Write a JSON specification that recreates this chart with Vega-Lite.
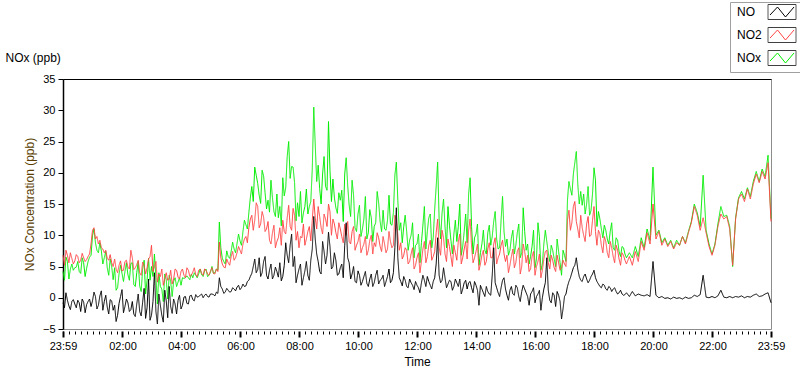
{
  "$schema": "https://vega.github.io/schema/vega-lite/v6.json",
  "autosize": "none",
  "width": 708,
  "height": 250,
  "padding": {"left": 63, "top": 79, "right": 29, "bottom": 40},
  "background": "white",
  "config": {
    "view": {"stroke": "#8c8c8c", "strokeWidth": 1, "fill": "white"},
    "axis": {"grid": false, "labelFont": "Liberation Sans", "titleFont": "Liberation Sans", "labelColor": "#000000", "tickColor": "#000000", "domainColor": "#000000", "labelFontSize": 11, "titleFontSize": 12, "titleFontWeight": "normal", "labelFlush": false},
    "legend": {"labelFont": "Liberation Sans"}
  },
  "data": {"values": [
    {"t":-1,"NO":-0.8,"NO2":6.8,"NOx":4.2},{"t":5,"NO":0.8,"NO2":7.6,"NOx":6.5},{"t":11,"NO":-1.3,"NO2":5.6,"NOx":3.0},{"t":17,"NO":-0.6,"NO2":6.3,"NOx":5.4},
    {"t":23,"NO":-1.0,"NO2":5.9,"NOx":4.8},{"t":29,"NO":-0.4,"NO2":6.6,"NOx":5.8},{"t":35,"NO":-2.2,"NO2":6.0,"NOx":3.9},{"t":41,"NO":-0.7,"NO2":6.4,"NOx":5.6},
    {"t":47,"NO":-1.1,"NO2":6.1,"NOx":4.7},{"t":53,"NO":-0.2,"NO2":7.0,"NOx":6.5},{"t":59,"NO":-0.5,"NO2":10.8,"NOx":9.9},{"t":65,"NO":0.2,"NO2":9.4,"NOx":8.8},
    {"t":71,"NO":-1.2,"NO2":8.6,"NOx":7.2},{"t":77,"NO":1.1,"NO2":8.0,"NOx":7.5},{"t":83,"NO":-0.6,"NO2":7.2,"NOx":6.4},{"t":89,"NO":-1.5,"NO2":6.3,"NOx":4.8},
    {"t":95,"NO":-0.3,"NO2":6.9,"NOx":6.2},{"t":101,"NO":-2.0,"NO2":5.0,"NOx":2.9},{"t":107,"NO":-3.8,"NO2":4.6,"NOx":1.2},{"t":113,"NO":-0.9,"NO2":5.2,"NOx":3.8},
    {"t":119,"NO":1.3,"NO2":4.3,"NOx":3.9},{"t":125,"NO":-1.4,"NO2":5.8,"NOx":4.2},{"t":131,"NO":-0.8,"NO2":4.9,"NOx":3.7},{"t":137,"NO":-1.9,"NO2":7.6,"NOx":5.5},
    {"t":143,"NO":-2.6,"NO2":4.5,"NOx":2.1},{"t":149,"NO":-1.0,"NO2":5.3,"NOx":4.0},{"t":155,"NO":-2.2,"NO2":4.0,"NOx":1.9},{"t":161,"NO":-0.7,"NO2":5.7,"NOx":4.6},
    {"t":167,"NO":-3.3,"NO2":3.8,"NOx":0.6},{"t":173,"NO":3.0,"NO2":6.2,"NOx":6.3},{"t":179,"NO":-2.8,"NO2":8.4,"NOx":5.0},{"t":185,"NO":4.0,"NO2":5.0,"NOx":7.0},
    {"t":191,"NO":-4.2,"NO2":2.5,"NOx":-1.0},{"t":197,"NO":-1.2,"NO2":3.4,"NOx":1.8},{"t":203,"NO":-3.9,"NO2":2.0,"NOx":-0.6},{"t":209,"NO":-0.5,"NO2":4.0,"NOx":2.9},
    {"t":215,"NO":1.8,"NO2":3.0,"NOx":3.6},{"t":221,"NO":-2.5,"NO2":2.2,"NOx":0.2},{"t":227,"NO":-1.0,"NO2":4.6,"NOx":3.2},{"t":233,"NO":-0.4,"NO2":3.3,"NOx":2.5},
    {"t":239,"NO":-1.8,"NO2":4.2,"NOx":2.0},{"t":245,"NO":0.1,"NO2":3.6,"NOx":3.1},{"t":251,"NO":-0.9,"NO2":4.8,"NOx":3.5},{"t":257,"NO":0.3,"NO2":3.4,"NOx":2.9},
    {"t":263,"NO":-0.3,"NO2":4.1,"NOx":3.2},{"t":269,"NO":0.5,"NO2":3.7,"NOx":3.6},{"t":275,"NO":0.2,"NO2":4.4,"NOx":3.8},{"t":281,"NO":0.6,"NO2":3.9,"NOx":3.7},
    {"t":287,"NO":0.4,"NO2":4.6,"NOx":4.3},{"t":293,"NO":0.2,"NO2":3.8,"NOx":3.4},{"t":299,"NO":0.6,"NO2":4.3,"NOx":4.1},{"t":305,"NO":0.5,"NO2":3.9,"NOx":3.9},
    {"t":311,"NO":0.9,"NO2":4.6,"NOx":4.6},{"t":317,"NO":3.2,"NO2":8.9,"NOx":12.1},{"t":323,"NO":1.4,"NO2":5.4,"NOx":6.3},{"t":329,"NO":0.9,"NO2":4.8,"NOx":5.4},
    {"t":335,"NO":1.2,"NO2":5.6,"NOx":6.6},{"t":341,"NO":1.0,"NO2":6.6,"NOx":7.4},{"t":347,"NO":1.4,"NO2":6.0,"NOx":7.8},{"t":353,"NO":1.7,"NO2":7.2,"NOx":8.7},
    {"t":359,"NO":1.3,"NO2":7.6,"NOx":9.1},{"t":365,"NO":2.2,"NO2":8.6,"NOx":10.6},{"t":371,"NO":1.9,"NO2":9.8,"NOx":11.7},{"t":377,"NO":2.8,"NO2":11.2,"NOx":13.6},
    {"t":383,"NO":3.9,"NO2":13.2,"NOx":17.8},{"t":389,"NO":6.2,"NO2":12.4,"NOx":20.9},{"t":395,"NO":4.5,"NO2":14.6,"NOx":18.3},{"t":401,"NO":3.4,"NO2":11.8,"NOx":15.1},
    {"t":407,"NO":5.8,"NO2":12.9,"NOx":19.5},{"t":413,"NO":3.6,"NO2":11.0,"NOx":14.2},{"t":419,"NO":4.4,"NO2":9.2,"NOx":13.7},{"t":425,"NO":3.0,"NO2":10.4,"NOx":16.0},
    {"t":431,"NO":4.9,"NO2":8.0,"NOx":13.0},{"t":437,"NO":3.3,"NO2":9.6,"NOx":12.8},{"t":443,"NO":2.7,"NO2":8.4,"NOx":11.5},{"t":449,"NO":5.2,"NO2":10.6,"NOx":16.3},
    {"t":455,"NO":6.8,"NO2":12.8,"NOx":22.6},{"t":461,"NO":8.4,"NO2":11.4,"NOx":19.1},{"t":467,"NO":5.0,"NO2":14.3,"NOx":20.9},{"t":473,"NO":2.4,"NO2":9.2,"NOx":12.3},
    {"t":479,"NO":4.6,"NO2":8.0,"NOx":13.0},{"t":485,"NO":2.0,"NO2":9.6,"NOx":12.0},{"t":491,"NO":4.3,"NO2":8.4,"NOx":14.6},{"t":497,"NO":3.6,"NO2":10.6,"NOx":13.4},
    {"t":503,"NO":6.0,"NO2":9.1,"NOx":15.4},{"t":509,"NO":13.0,"NO2":15.8,"NOx":30.5},{"t":515,"NO":7.0,"NO2":11.0,"NOx":18.6},{"t":521,"NO":4.2,"NO2":13.0,"NOx":17.5},
    {"t":527,"NO":9.0,"NO2":10.2,"NOx":19.8},{"t":533,"NO":5.4,"NO2":12.6,"NOx":17.8},{"t":539,"NO":10.5,"NO2":15.0,"NOx":28.2},{"t":545,"NO":4.6,"NO2":10.0,"NOx":15.4},
    {"t":551,"NO":7.2,"NO2":11.8,"NOx":16.0},{"t":557,"NO":3.6,"NO2":9.4,"NOx":13.5},{"t":563,"NO":4.8,"NO2":11.0,"NOx":15.6},{"t":569,"NO":3.2,"NO2":8.8,"NOx":12.2},
    {"t":575,"NO":12.0,"NO2":10.0,"NOx":22.4},{"t":581,"NO":5.6,"NO2":9.0,"NOx":14.8},{"t":587,"NO":3.8,"NO2":10.6,"NOx":18.8},{"t":593,"NO":2.6,"NO2":7.6,"NOx":11.2},
    {"t":599,"NO":4.3,"NO2":9.0,"NOx":13.4},{"t":605,"NO":2.0,"NO2":7.2,"NOx":9.8},{"t":611,"NO":3.4,"NO2":8.6,"NOx":12.6},{"t":617,"NO":2.3,"NO2":6.8,"NOx":9.4},
    {"t":623,"NO":3.0,"NO2":9.2,"NOx":14.1},{"t":629,"NO":1.8,"NO2":7.0,"NOx":9.0},{"t":635,"NO":3.6,"NO2":8.2,"NOx":12.0},{"t":641,"NO":2.2,"NO2":9.6,"NOx":15.2},
    {"t":647,"NO":3.0,"NO2":7.4,"NOx":10.6},{"t":653,"NO":1.8,"NO2":8.6,"NOx":11.0},{"t":659,"NO":3.4,"NO2":7.8,"NOx":12.4},{"t":665,"NO":2.4,"NO2":9.0,"NOx":11.8},
    {"t":671,"NO":4.0,"NO2":8.4,"NOx":13.6},{"t":677,"NO":14.4,"NO2":12.4,"NOx":21.7},{"t":683,"NO":3.2,"NO2":7.6,"NOx":10.8},{"t":689,"NO":1.9,"NO2":6.2,"NOx":8.8},
    {"t":695,"NO":2.8,"NO2":8.0,"NOx":13.2},{"t":701,"NO":1.6,"NO2":5.4,"NOx":7.6},{"t":707,"NO":2.4,"NO2":7.0,"NOx":10.0},{"t":713,"NO":1.3,"NO2":4.6,"NOx":6.4},
    {"t":719,"NO":2.0,"NO2":6.4,"NOx":8.6},{"t":725,"NO":0.8,"NO2":4.0,"NOx":5.6},{"t":731,"NO":3.6,"NO2":7.8,"NOx":11.6},{"t":737,"NO":1.8,"NO2":5.6,"NOx":7.8},
    {"t":743,"NO":2.6,"NO2":8.4,"NOx":12.8},{"t":749,"NO":1.4,"NO2":6.0,"NOx":8.0},{"t":755,"NO":3.2,"NO2":7.4,"NOx":14.2},{"t":761,"NO":9.6,"NO2":12.6,"NOx":21.7},
    {"t":767,"NO":2.4,"NO2":6.8,"NOx":9.4},{"t":773,"NO":4.8,"NO2":9.6,"NOx":15.8},{"t":779,"NO":1.6,"NO2":5.8,"NOx":8.0},{"t":785,"NO":2.8,"NO2":8.2,"NOx":11.6},
    {"t":791,"NO":1.2,"NO2":5.0,"NOx":7.0},{"t":797,"NO":3.0,"NO2":7.2,"NOx":12.4},{"t":803,"NO":1.8,"NO2":9.0,"NOx":11.4},{"t":809,"NO":0.6,"NO2":5.4,"NOx":6.8},
    {"t":815,"NO":2.4,"NO2":7.8,"NOx":10.6},{"t":821,"NO":1.4,"NO2":6.2,"NOx":8.8},{"t":827,"NO":2.6,"NO2":12.6,"NOx":19.2},{"t":833,"NO":0.8,"NO2":5.6,"NOx":7.0},
    {"t":839,"NO":2.0,"NO2":7.4,"NOx":10.2},{"t":845,"NO":-1.2,"NO2":4.4,"NOx":5.2},{"t":851,"NO":1.4,"NO2":6.8,"NOx":8.6},{"t":857,"NO":0.2,"NO2":5.2,"NOx":7.6},
    {"t":863,"NO":1.0,"NO2":7.8,"NOx":10.4},{"t":869,"NO":0.4,"NO2":6.4,"NOx":8.4},{"t":875,"NO":8.0,"NO2":8.6,"NOx":12.2},{"t":881,"NO":1.6,"NO2":5.4,"NOx":9.4},
    {"t":887,"NO":0.2,"NO2":7.0,"NOx":8.0},{"t":893,"NO":2.8,"NO2":9.2,"NOx":16.2},{"t":899,"NO":1.4,"NO2":5.8,"NOx":8.2},{"t":905,"NO":-0.4,"NO2":4.0,"NOx":6.8},
    {"t":911,"NO":1.8,"NO2":6.6,"NOx":9.6},{"t":917,"NO":0.4,"NO2":4.8,"NOx":7.0},{"t":923,"NO":1.6,"NO2":7.4,"NOx":10.4},{"t":929,"NO":-0.6,"NO2":3.8,"NOx":6.4},
    {"t":935,"NO":2.0,"NO2":8.6,"NOx":14.4},{"t":941,"NO":0.8,"NO2":5.6,"NOx":7.6},{"t":947,"NO":-1.2,"NO2":4.2,"NOx":5.4},{"t":953,"NO":1.0,"NO2":6.6,"NOx":8.2},
    {"t":959,"NO":-0.8,"NO2":3.6,"NOx":4.8},{"t":965,"NO":0.6,"NO2":5.8,"NOx":12.0},{"t":971,"NO":-2.0,"NO2":3.2,"NOx":4.4},{"t":977,"NO":1.4,"NO2":6.2,"NOx":8.6},
    {"t":983,"NO":6.4,"NO2":7.6,"NOx":9.0},{"t":989,"NO":-0.4,"NO2":4.6,"NOx":5.8},{"t":995,"NO":0.8,"NO2":6.0,"NOx":7.6},{"t":1001,"NO":-1.4,"NO2":4.2,"NOx":5.0},
    {"t":1007,"NO":0.4,"NO2":5.6,"NOx":7.4},{"t":1013,"NO":-3.4,"NO2":4.8,"NOx":3.6},{"t":1019,"NO":0.2,"NO2":5.4,"NOx":6.8},{"t":1025,"NO":1.8,"NO2":12.4,"NOx":15.6},
    {"t":1031,"NO":3.2,"NO2":10.8,"NOx":17.4},{"t":1037,"NO":4.8,"NO2":14.6,"NOx":19.8},{"t":1043,"NO":6.4,"NO2":12.2,"NOx":23.4},{"t":1049,"NO":3.4,"NO2":9.6,"NOx":15.0},
    {"t":1055,"NO":2.6,"NO2":11.2,"NOx":14.8},{"t":1061,"NO":3.8,"NO2":9.0,"NOx":13.4},{"t":1067,"NO":2.4,"NO2":13.0,"NOx":17.8},{"t":1073,"NO":3.4,"NO2":10.0,"NOx":14.0},
    {"t":1079,"NO":4.4,"NO2":14.6,"NOx":20.8},{"t":1085,"NO":2.6,"NO2":8.4,"NOx":11.4},{"t":1091,"NO":1.8,"NO2":10.2,"NOx":12.6},{"t":1097,"NO":2.2,"NO2":7.2,"NOx":9.6},
    {"t":1103,"NO":1.4,"NO2":9.0,"NOx":10.8},{"t":1109,"NO":1.8,"NO2":6.4,"NOx":8.6},{"t":1115,"NO":1.0,"NO2":8.0,"NOx":12.0},{"t":1121,"NO":1.6,"NO2":5.6,"NOx":7.6},
    {"t":1127,"NO":0.6,"NO2":7.6,"NOx":9.2},{"t":1133,"NO":1.2,"NO2":5.2,"NOx":6.6},{"t":1139,"NO":0.4,"NO2":6.8,"NOx":8.0},{"t":1145,"NO":0.8,"NO2":5.4,"NOx":6.4},
    {"t":1151,"NO":0.2,"NO2":6.6,"NOx":7.2},{"t":1157,"NO":1.0,"NO2":5.2,"NOx":6.4},{"t":1163,"NO":0.3,"NO2":7.4,"NOx":8.2},{"t":1169,"NO":0.6,"NO2":5.8,"NOx":6.6},
    {"t":1175,"NO":0.4,"NO2":9.0,"NOx":9.6},{"t":1181,"NO":0.3,"NO2":7.6,"NOx":8.0},{"t":1187,"NO":0.5,"NO2":10.4,"NOx":11.0},{"t":1193,"NO":0.2,"NO2":8.6,"NOx":9.2},
    {"t":1199,"NO":5.8,"NO2":15.0,"NOx":20.9},{"t":1205,"NO":0.4,"NO2":9.4,"NOx":10.0},{"t":1211,"NO":0.0,"NO2":10.6,"NOx":10.8},{"t":1217,"NO":0.2,"NO2":8.4,"NOx":8.8},
    {"t":1223,"NO":-0.1,"NO2":9.4,"NOx":9.6},{"t":1229,"NO":0.0,"NO2":8.2,"NOx":8.4},{"t":1235,"NO":-0.2,"NO2":9.0,"NOx":9.2},{"t":1241,"NO":0.1,"NO2":7.8,"NOx":8.0},
    {"t":1247,"NO":-0.1,"NO2":8.8,"NOx":9.2},{"t":1253,"NO":0.0,"NO2":8.4,"NOx":8.4},{"t":1259,"NO":-0.2,"NO2":9.8,"NOx":9.8},{"t":1265,"NO":0.1,"NO2":8.6,"NOx":8.8},
    {"t":1271,"NO":-0.1,"NO2":10.4,"NOx":10.6},{"t":1277,"NO":0.0,"NO2":12.0,"NOx":12.2},{"t":1283,"NO":0.4,"NO2":14.6,"NOx":15.0},{"t":1289,"NO":0.2,"NO2":13.2,"NOx":13.6},
    {"t":1295,"NO":0.5,"NO2":10.8,"NOx":11.4},{"t":1301,"NO":3.6,"NO2":12.8,"NOx":19.6},{"t":1307,"NO":0.1,"NO2":10.4,"NOx":10.8},{"t":1313,"NO":0.0,"NO2":8.2,"NOx":8.6},
    {"t":1319,"NO":0.2,"NO2":6.8,"NOx":7.0},{"t":1325,"NO":0.0,"NO2":8.4,"NOx":8.6},{"t":1331,"NO":0.3,"NO2":11.4,"NOx":11.8},{"t":1337,"NO":1.2,"NO2":13.4,"NOx":14.6},
    {"t":1343,"NO":0.1,"NO2":12.6,"NOx":13.0},{"t":1349,"NO":0.0,"NO2":13.0,"NOx":13.2},{"t":1355,"NO":0.2,"NO2":11.0,"NOx":11.4},{"t":1361,"NO":0.0,"NO2":5.2,"NOx":5.0},
    {"t":1367,"NO":0.2,"NO2":12.6,"NOx":12.8},{"t":1373,"NO":0.1,"NO2":15.8,"NOx":16.0},{"t":1379,"NO":0.3,"NO2":16.6,"NOx":17.0},{"t":1385,"NO":0.0,"NO2":15.4,"NOx":15.8},
    {"t":1391,"NO":0.2,"NO2":17.4,"NOx":17.6},{"t":1397,"NO":0.1,"NO2":15.8,"NOx":16.2},{"t":1403,"NO":0.4,"NO2":18.2,"NOx":18.6},{"t":1409,"NO":0.6,"NO2":19.8,"NOx":20.2},
    {"t":1415,"NO":0.2,"NO2":18.4,"NOx":18.6},{"t":1421,"NO":0.3,"NO2":20.2,"NOx":20.6},{"t":1427,"NO":0.6,"NO2":19.0,"NOx":19.4},{"t":1433,"NO":0.8,"NO2":21.6,"NOx":22.8},
    {"t":1439,"NO":-0.8,"NO2":12.2,"NOx":12.6},
    {"t":2,"NO":-1.6,"NO2":5.2,"NOx":2.8},{"t":8,"NO":-0.4,"NO2":6.8,"NOx":5.8},{"t":14,"NO":-1.9,"NO2":7.2,"NOx":4.6},{"t":20,"NO":-0.3,"NO2":5.4,"NOx":4.4},
    {"t":26,"NO":-1.6,"NO2":6.9,"NOx":4.9},{"t":32,"NO":-0.8,"NO2":5.6,"NOx":4.2},{"t":38,"NO":-0.2,"NO2":7.1,"NOx":6.4},{"t":44,"NO":-2.4,"NO2":5.8,"NOx":3.4},
    {"t":50,"NO":-0.6,"NO2":6.6,"NOx":5.8},{"t":56,"NO":-1.4,"NO2":8.6,"NOx":6.8},{"t":62,"NO":0.9,"NO2":11.2,"NOx":11.0},{"t":68,"NO":-1.8,"NO2":9.8,"NOx":7.6},
    {"t":74,"NO":0.3,"NO2":9.2,"NOx":8.8},{"t":80,"NO":-2.0,"NO2":7.8,"NOx":5.4},{"t":86,"NO":0.4,"NO2":7.6,"NOx":7.4},{"t":92,"NO":-2.6,"NO2":6.0,"NOx":3.6},
    {"t":98,"NO":-0.5,"NO2":5.6,"NOx":5.0},{"t":104,"NO":-1.2,"NO2":6.2,"NOx":4.8},{"t":110,"NO":-2.8,"NO2":4.0,"NOx":1.6},{"t":116,"NO":0.2,"NO2":5.9,"NOx":5.2},
    {"t":122,"NO":-2.4,"NO2":4.4,"NOx":2.6},{"t":128,"NO":-0.2,"NO2":6.0,"NOx":5.6},{"t":134,"NO":-2.2,"NO2":4.6,"NOx":2.8},{"t":140,"NO":-0.6,"NO2":6.4,"NOx":5.6},
    {"t":146,"NO":-3.0,"NO2":4.8,"NOx":1.8},{"t":152,"NO":0.6,"NO2":6.0,"NOx":5.8},{"t":158,"NO":-2.9,"NO2":3.6,"NOx":1.0},{"t":164,"NO":1.5,"NO2":5.2,"NOx":6.0},
    {"t":170,"NO":-1.6,"NO2":4.8,"NOx":2.8},{"t":176,"NO":-3.6,"NO2":6.6,"NOx":2.8},{"t":182,"NO":-0.6,"NO2":4.2,"NOx":3.4},{"t":188,"NO":-2.2,"NO2":5.8,"NOx":3.2},
    {"t":194,"NO":0.6,"NO2":3.8,"NOx":4.0},{"t":200,"NO":-2.8,"NO2":4.6,"NOx":1.4},{"t":206,"NO":1.2,"NO2":3.0,"NOx":3.8},{"t":212,"NO":-3.2,"NO2":2.8,"NOx":-0.2},
    {"t":218,"NO":-1.4,"NO2":4.4,"NOx":2.6},{"t":224,"NO":-0.2,"NO2":3.0,"NOx":2.6},{"t":230,"NO":-2.6,"NO2":4.4,"NOx":1.8},{"t":236,"NO":0.4,"NO2":3.0,"NOx":3.2},
    {"t":242,"NO":-1.2,"NO2":4.6,"NOx":3.2},{"t":248,"NO":0.2,"NO2":3.2,"NOx":3.2},{"t":254,"NO":-1.0,"NO2":4.4,"NOx":3.2},{"t":260,"NO":0.4,"NO2":3.6,"NOx":3.8},
    {"t":266,"NO":-0.5,"NO2":4.8,"NOx":4.0},{"t":272,"NO":0.1,"NO2":3.4,"NOx":3.2},{"t":278,"NO":0.4,"NO2":4.6,"NOx":4.6},{"t":284,"NO":0.0,"NO2":3.6,"NOx":3.4},
    {"t":290,"NO":0.6,"NO2":4.4,"NOx":4.6},{"t":296,"NO":0.1,"NO2":3.6,"NOx":3.6},{"t":302,"NO":0.6,"NO2":4.8,"NOx":5.0},{"t":308,"NO":0.3,"NO2":3.8,"NOx":4.0},
    {"t":314,"NO":0.7,"NO2":4.2,"NOx":4.4},
    {"t":320,"NO":1.8,"NO2":6.4,"NOx":8.0},{"t":326,"NO":0.7,"NO2":4.9,"NOx":5.8},{"t":332,"NO":1.5,"NO2":6.2,"NOx":7.5},{"t":338,"NO":0.9,"NO2":5.2,"NOx":6.3},
    {"t":344,"NO":1.6,"NO2":7.4,"NOx":8.9},{"t":350,"NO":1.1,"NO2":6.4,"NOx":7.2},{"t":356,"NO":2.0,"NO2":8.2,"NOx":10.2},{"t":362,"NO":1.6,"NO2":7.0,"NOx":8.4},
    {"t":368,"NO":1.8,"NO2":9.4,"NOx":12.4},{"t":374,"NO":2.6,"NO2":8.8,"NOx":11.0},{"t":380,"NO":3.4,"NO2":12.6,"NOx":16.0},{"t":386,"NO":5.0,"NO2":10.8,"NOx":15.4},
    {"t":392,"NO":4.0,"NO2":15.2,"NOx":19.6},{"t":398,"NO":6.4,"NO2":11.2,"NOx":16.4},{"t":404,"NO":4.0,"NO2":13.8,"NOx":20.4},{"t":410,"NO":6.6,"NO2":10.6,"NOx":16.8},
    {"t":416,"NO":3.0,"NO2":12.2,"NOx":15.6},{"t":422,"NO":5.4,"NO2":8.6,"NOx":18.8},{"t":428,"NO":3.6,"NO2":11.6,"NOx":13.8},{"t":434,"NO":4.2,"NO2":9.0,"NOx":16.6},
    {"t":440,"NO":5.6,"NO2":11.2,"NOx":14.6},{"t":446,"NO":3.4,"NO2":12.4,"NOx":19.2},{"t":452,"NO":8.8,"NO2":10.2,"NOx":17.6},{"t":458,"NO":5.6,"NO2":14.8,"NOx":25.0},
    {"t":464,"NO":10.2,"NO2":10.8,"NOx":21.0},{"t":470,"NO":6.6,"NO2":13.2,"NOx":18.4},{"t":476,"NO":3.6,"NO2":10.6,"NOx":15.2},{"t":482,"NO":5.4,"NO2":9.8,"NOx":17.0},
    {"t":488,"NO":3.2,"NO2":11.8,"NOx":13.6},{"t":494,"NO":5.8,"NO2":9.4,"NOx":17.4},{"t":500,"NO":2.8,"NO2":11.4,"NOx":14.6},{"t":506,"NO":7.8,"NO2":12.4,"NOx":20.6},
    {"t":512,"NO":9.4,"NO2":12.8,"NOx":24.6},{"t":518,"NO":5.8,"NO2":14.6,"NOx":21.2},{"t":524,"NO":3.8,"NO2":11.2,"NOx":15.0},{"t":530,"NO":7.4,"NO2":13.4,"NOx":22.6},
    {"t":536,"NO":6.8,"NO2":11.4,"NOx":17.2},{"t":542,"NO":8.2,"NO2":13.8,"NOx":20.4},{"t":548,"NO":5.0,"NO2":12.6,"NOx":19.0},{"t":554,"NO":6.0,"NO2":10.4,"NOx":14.4},
    {"t":560,"NO":3.8,"NO2":12.0,"NOx":16.8},{"t":566,"NO":5.4,"NO2":9.8,"NOx":17.2},{"t":572,"NO":8.4,"NO2":11.8,"NOx":19.8},{"t":578,"NO":6.4,"NO2":12.2,"NOx":18.0},
    {"t":584,"NO":3.0,"NO2":8.6,"NOx":13.0},{"t":590,"NO":5.0,"NO2":11.4,"NOx":16.4},{"t":596,"NO":2.4,"NO2":8.4,"NOx":10.6},{"t":602,"NO":3.6,"NO2":10.2,"NOx":14.8},
    {"t":608,"NO":2.6,"NO2":8.0,"NOx":11.0},{"t":614,"NO":4.2,"NO2":9.8,"NOx":16.2},{"t":620,"NO":1.8,"NO2":7.6,"NOx":10.4},{"t":626,"NO":3.8,"NO2":10.0,"NOx":12.8},
    {"t":632,"NO":2.4,"NO2":8.8,"NOx":11.4},{"t":638,"NO":4.4,"NO2":10.4,"NOx":17.0},{"t":644,"NO":2.8,"NO2":8.2,"NOx":12.2},{"t":650,"NO":3.6,"NO2":9.8,"NOx":14.0},
    {"t":656,"NO":2.6,"NO2":7.2,"NOx":10.8},{"t":662,"NO":4.6,"NO2":10.6,"NOx":16.4},{"t":668,"NO":2.8,"NO2":8.0,"NOx":11.6},{"t":674,"NO":8.0,"NO2":13.2,"NOx":19.6},
    {"t":680,"NO":6.4,"NO2":10.0,"NOx":15.6},{"t":686,"NO":2.6,"NO2":8.8,"NOx":12.0},{"t":692,"NO":3.4,"NO2":6.8,"NOx":11.4},{"t":698,"NO":1.8,"NO2":7.6,"NOx":10.6},
    {"t":704,"NO":3.0,"NO2":5.8,"NOx":9.2},{"t":710,"NO":2.0,"NO2":8.0,"NOx":12.0},{"t":716,"NO":2.6,"NO2":5.2,"NOx":8.4},{"t":722,"NO":1.6,"NO2":7.2,"NOx":10.2},
    {"t":728,"NO":2.4,"NO2":5.8,"NOx":8.8},{"t":734,"NO":2.8,"NO2":9.0,"NOx":14.6},{"t":740,"NO":3.4,"NO2":6.6,"NOx":10.6},{"t":746,"NO":2.0,"NO2":9.2,"NOx":13.4},
    {"t":752,"NO":2.6,"NO2":6.6,"NOx":9.6},{"t":758,"NO":5.4,"NO2":10.4,"NOx":17.8},{"t":764,"NO":3.6,"NO2":8.0,"NOx":12.6},{"t":770,"NO":2.8,"NO2":10.8,"NOx":13.6},
    {"t":776,"NO":3.2,"NO2":7.0,"NOx":11.4},{"t":782,"NO":2.2,"NO2":9.4,"NOx":14.6},{"t":788,"NO":2.6,"NO2":6.6,"NOx":9.2},{"t":794,"NO":1.8,"NO2":8.4,"NOx":10.2},
    {"t":800,"NO":2.4,"NO2":6.0,"NOx":9.0},{"t":806,"NO":3.0,"NO2":10.2,"NOx":15.0},{"t":812,"NO":1.4,"NO2":6.4,"NOx":8.2},{"t":818,"NO":2.8,"NO2":9.0,"NOx":13.4},
    {"t":824,"NO":2.4,"NO2":10.8,"NOx":16.6},{"t":830,"NO":1.6,"NO2":8.2,"NOx":11.4},{"t":836,"NO":2.6,"NO2":6.4,"NOx":9.6},{"t":842,"NO":1.2,"NO2":8.6,"NOx":11.8},
    {"t":848,"NO":2.0,"NO2":5.4,"NOx":7.2},{"t":854,"NO":0.8,"NO2":7.6,"NOx":10.8},{"t":860,"NO":1.8,"NO2":5.8,"NOx":7.0},{"t":866,"NO":0.6,"NO2":8.8,"NOx":11.6},
    {"t":872,"NO":3.6,"NO2":6.4,"NOx":9.8},{"t":878,"NO":2.4,"NO2":9.6,"NOx":13.8},{"t":884,"NO":0.8,"NO2":6.4,"NOx":7.8},{"t":890,"NO":1.6,"NO2":8.4,"NOx":12.4},
    {"t":896,"NO":3.2,"NO2":7.0,"NOx":10.6},{"t":902,"NO":0.4,"NO2":6.8,"NOx":9.4},{"t":908,"NO":1.2,"NO2":5.2,"NOx":7.6},{"t":914,"NO":0.6,"NO2":7.8,"NOx":10.8},
    {"t":920,"NO":2.0,"NO2":5.6,"NOx":8.4},{"t":926,"NO":0.2,"NO2":8.0,"NOx":11.8},{"t":932,"NO":1.0,"NO2":5.0,"NOx":7.2},{"t":938,"NO":1.4,"NO2":7.4,"NOx":10.6},
    {"t":944,"NO":0.2,"NO2":6.8,"NOx":8.6},{"t":950,"NO":0.6,"NO2":4.6,"NOx":6.6},{"t":956,"NO":1.6,"NO2":7.4,"NOx":10.8},{"t":962,"NO":0.2,"NO2":5.0,"NOx":6.2},
    {"t":968,"NO":1.2,"NO2":7.0,"NOx":9.8},{"t":974,"NO":0.0,"NO2":4.4,"NOx":5.4},{"t":980,"NO":2.4,"NO2":7.4,"NOx":10.8},{"t":986,"NO":1.2,"NO2":5.6,"NOx":7.2},
    {"t":992,"NO":-0.8,"NO2":6.8,"NOx":8.4},{"t":998,"NO":0.4,"NO2":4.8,"NOx":6.2},{"t":1004,"NO":1.0,"NO2":6.8,"NOx":9.4},{"t":1010,"NO":-0.6,"NO2":4.4,"NOx":5.6},
    {"t":1016,"NO":-1.8,"NO2":6.0,"NOx":7.6},{"t":1022,"NO":0.6,"NO2":5.0,"NOx":5.8},
    {"t":1028,"NO":2.6,"NO2":14.0,"NOx":18.6},{"t":1034,"NO":4.0,"NO2":12.0,"NOx":16.4},{"t":1040,"NO":5.2,"NO2":15.4,"NOx":21.6},{"t":1046,"NO":4.6,"NO2":11.0,"NOx":18.2},
    {"t":1052,"NO":2.8,"NO2":13.2,"NOx":17.0},{"t":1058,"NO":3.4,"NO2":10.0,"NOx":16.6},{"t":1064,"NO":3.0,"NO2":11.8,"NOx":15.0},{"t":1070,"NO":2.8,"NO2":9.8,"NOx":13.2},
    {"t":1076,"NO":3.8,"NO2":12.4,"NOx":16.6},{"t":1082,"NO":3.2,"NO2":10.6,"NOx":18.8},{"t":1088,"NO":2.2,"NO2":10.8,"NOx":13.8},{"t":1094,"NO":1.6,"NO2":8.4,"NOx":11.0},
    {"t":1100,"NO":2.0,"NO2":9.8,"NOx":11.6},{"t":1106,"NO":1.2,"NO2":7.2,"NOx":9.4},{"t":1112,"NO":1.6,"NO2":9.0,"NOx":10.6},{"t":1118,"NO":1.4,"NO2":6.6,"NOx":8.0},
    {"t":1124,"NO":1.0,"NO2":8.4,"NOx":9.6},{"t":1130,"NO":0.8,"NO2":6.2,"NOx":7.4},{"t":1136,"NO":0.6,"NO2":7.2,"NOx":8.2},{"t":1142,"NO":0.5,"NO2":6.0,"NOx":7.0}
  ]},
  "resolve": {"axis": {"x": "independent"}},
  "layer": [
    {
      "mark": {"type": "line", "strokeWidth": 1},
      "encoding": {
        "x": {"field": "t", "type": "quantitative", "scale": {"domain": [-1, 1439], "nice": false, "zero": false},
          "axis": {"orient": "bottom", "offset": 2, "domain": false, "labels": false, "title": null, "tickSize": 3, "tickWidth": 1,
            "values": [0,12,24,36,48,60,72,84,96,108,132,144,156,168,180,192,204,216,228,252,264,276,288,300,312,324,336,348,372,384,396,408,420,432,444,456,468,492,504,516,528,540,552,564,576,588,612,624,636,648,660,672,684,696,708,732,744,756,768,780,792,804,816,828,852,864,876,888,900,912,924,936,948,972,984,996,1008,1020,1032,1044,1056,1068,1092,1104,1116,1128,1140,1152,1164,1176,1188,1212,1224,1236,1248,1260,1272,1284,1296,1308,1332,1344,1356,1368,1380,1392,1404,1416,1428]}},
        "y": {"field": "NOx", "type": "quantitative", "scale": {"domain": [-5, 35], "nice": false, "zero": false}, "axis": {"values": [-5,0,5,10,15,20,25,30,35], "title": "NOx Concentration (ppb)", "titleColor": "#5a3e00", "tickSize": 5, "labelPadding": 3, "titlePadding": 6, "domainWidth": 1.5}},
        "color": {"datum": "NOx", "scale": {"domain": ["NO", "NO2", "NOx"], "range": ["#000000", "#ff4444", "#00ee00"]},
          "legend": {"orient": "none", "legendX": 667, "legendY": -77, "title": null, "padding": 4, "strokeColor": "#a0a0a0", "fillColor": null,
            "symbolType": "M-2.8,-1.5M2.8,1.5M-2.4,0.6L-0.9,-1.0L0.7,1.0L2.4,-1.0", "symbolSize": 100, "symbolStrokeWidth": 1, "symbolOffset": 42, "labelOffset": -51, "labelFontSize": 12, "labelColor": "#000000", "rowPadding": 3}},
        "strokeDash": {"datum": "b3", "scale": {"domain": ["b1", "b2", "b3"], "range": [[1, 0], [1, 0], [1, 0]]},
          "legend": {"orient": "none", "legendX": 667, "legendY": -77, "title": null, "padding": 4, "strokeColor": null, "fillColor": null,
            "symbolType": "M-2.8,-1.5H2.8V1.5H-2.8Z", "symbolSize": 100, "symbolStrokeWidth": 1, "symbolStrokeColor": "#404040", "symbolFillColor": "transparent", "symbolOffset": 42, "labelOffset": -51, "labelFontSize": 12, "labelColor": "transparent",
            "labelExpr": "datum.label == 'b1' ? 'NO' : datum.label == 'b2' ? 'NO2' : 'NOx'", "rowPadding": 3,
            "encode": {"symbols": {"update": {"stroke": {"value": "#404040"}, "fill": {"value": "transparent"}}}}}}
      }
    },
    {
      "mark": {"type": "line", "strokeWidth": 1},
      "encoding": {
        "x": {"field": "t", "type": "quantitative", "scale": {"domain": [-1, 1439], "nice": false, "zero": false},
          "axis": {"orient": "top", "domain": true, "domainColor": "#000000", "ticks": false, "labels": false, "title": "NOx (ppb)", "titleX": -58, "titleY": -15, "titleAlign": "left", "titleAnchor": null, "titleBaseline": "bottom", "titleAngle": 0, "titleColor": "#000000"}},
        "y": {"field": "NO2", "type": "quantitative", "scale": {"domain": [-5, 35], "nice": false, "zero": false}, "axis": {"values": [-5,0,5,10,15,20,25,30,35], "title": "NOx Concentration (ppb)", "titleColor": "#5a3e00", "tickSize": 5, "labelPadding": 3, "titlePadding": 6, "domainWidth": 1.5}},
        "color": {"datum": "NO2"},
        "strokeDash": {"datum": "b2"}
      }
    },
    {
      "mark": {"type": "line", "strokeWidth": 1},
      "encoding": {
        "x": {"field": "t", "type": "quantitative", "scale": {"domain": [-1, 1439], "nice": false, "zero": false},
          "axis": {"orient": "bottom", "offset": 2, "domain": false, "title": "Time", "tickSize": 6, "tickWidth": 2, "labelPadding": 3, "titlePadding": 5,
            "values": [-1,120,240,360,480,600,720,840,960,1080,1200,1320,1439],
            "labelExpr": "datum.value < 0 || datum.value > 1400 ? '23:59' : (datum.value < 600 ? '0' : '') + (datum.value / 60) + ':00'"}},
        "y": {"field": "NO", "type": "quantitative", "scale": {"domain": [-5, 35], "nice": false, "zero": false}, "axis": {"values": [-5,0,5,10,15,20,25,30,35], "title": "NOx Concentration (ppb)", "titleColor": "#5a3e00", "tickSize": 5, "labelPadding": 3, "titlePadding": 6, "domainWidth": 1.5}},
        "color": {"datum": "NO"},
        "strokeDash": {"datum": "b1"}
      }
    }
  ]
}
